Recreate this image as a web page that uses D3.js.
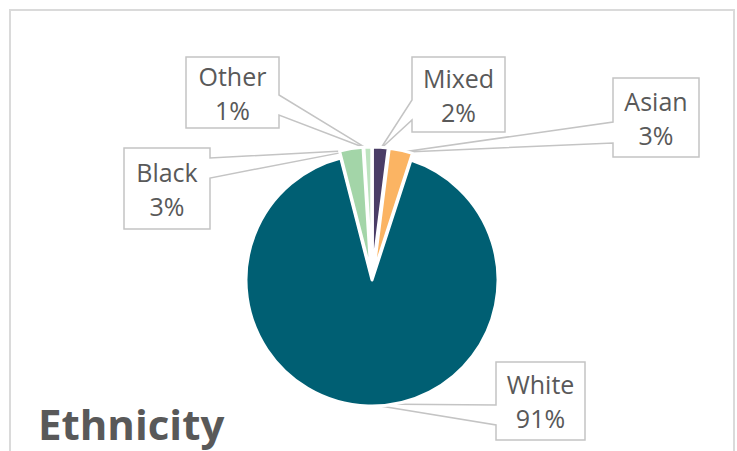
<!DOCTYPE html>
<meta charset="utf-8">
<style>
    html, body {
        margin: 0;
        padding: 0;
        background: #fff;
    }
    svg {
        display: block;
        font-family: "Open Sans", sans-serif;
    }
    .callout {
        fill: #fff;
        stroke: #c4c4c4;
        stroke-width: 1.5;
    }
    .label {
        fill: #595959;
        font-size: 25px;
    }
</style>
<body>
<script src="https://d3js.org/d3.v7.js"></script>
<script>
    // data, clockwise from 12 o'clock
    const categories = ["Mixed", "Asian", "White", "Black", "Other"];
    const values = [2, 3, 91, 3, 1];
    const percentLabels = ["2%", "3%", "91%", "3%", "1%"];
    const colors = ["#4a3d66", "#fbb463", "#005f73", "#a3d5a8", "#bde3bf"];

    // callout boxes: x, y, w, h, side of the pointer, pointer base (two y's)
    const boxes = {
        Mixed: {x: 412, y: 57, w: 93, h: 75, side: "left", b0: 100, b1: 120},
        Asian: {x: 613, y: 78, w: 86, h: 79, side: "left", b0: 122, b1: 143},
        White: {x: 496, y: 362, w: 89, h: 78, side: "left", b0: 405, b1: 425},
        Black: {x: 124, y: 148, w: 86, h: 81, side: "right", b0: 158, b1: 178},
        Other: {x: 186, y: 57, w: 93, h: 71, side: "right", b0: 95, b1: 115}
    };

    const width = 737, height = 451;
    const cx = 372, cy = 280, radius = 126, explode = 7;

    const svg = d3.select("body").append("svg")
        .attr("width", width)
        .attr("height", height);

    // outer frame
    svg.append("rect")
        .attr("x", 10).attr("y", 10)
        .attr("width", 724).attr("height", 460)
        .attr("fill", "none")
        .attr("stroke", "#dadada")
        .attr("stroke-width", 2);

    const data = categories.map((c, i) => ({name: c, value: values[i], pct: percentLabels[i], color: colors[i]}));

    const pie = d3.pie().sort(null).value(d => d.value);
    const arcs = pie(data);
    const arc = d3.arc().innerRadius(0).outerRadius(radius);

    // small slices are pulled out a little
    const offset = d => d.data.value < 50 ? explode : 0;
    const mid = d => (d.startAngle + d.endAngle) / 2;

    // callouts first so the pointers tuck under the slices
    const callouts = svg.append("g");
    arcs.forEach(d => {
        const b = boxes[d.data.name];
        const a = mid(d), rr = radius + offset(d) - 2;
        const tip = [cx + rr * Math.sin(a), cy - rr * Math.cos(a)];
        let pts;
        if (b.side === "right") {
            pts = [[b.x, b.y], [b.x + b.w, b.y], [b.x + b.w, b.b0], tip,
                [b.x + b.w, b.b1], [b.x + b.w, b.y + b.h], [b.x, b.y + b.h]];
        } else {
            pts = [[b.x, b.y], [b.x + b.w, b.y], [b.x + b.w, b.y + b.h], [b.x, b.y + b.h],
                [b.x, b.b1], tip, [b.x, b.b0]];
        }
        callouts.append("path")
            .attr("class", "callout")
            .attr("d", d3.line()(pts) + "Z");

        const tx = b.x + b.w / 2, ty = b.y + b.h / 2;
        callouts.append("text")
            .attr("class", "label")
            .attr("x", tx).attr("y", ty - 17)
            .attr("text-anchor", "middle")
            .attr("dominant-baseline", "central")
            .text(d.data.name);
        callouts.append("text")
            .attr("class", "label")
            .attr("x", tx).attr("y", ty + 17)
            .attr("text-anchor", "middle")
            .attr("dominant-baseline", "central")
            .text(d.data.pct);
    });

    svg.append("g")
        .attr("transform", `translate(${cx},${cy})`)
        .selectAll("path")
        .data(arcs)
        .join("path")
        .attr("transform", d => {
            const o = offset(d), a = mid(d);
            return `translate(${o * Math.sin(a)},${-o * Math.cos(a)})`;
        })
        .attr("d", arc)
        .attr("fill", d => d.data.color)
        .attr("stroke", "#fff")
        .attr("stroke-width", 3)
        .attr("stroke-linejoin", "round");

    svg.append("text")
        .attr("x", 38)
        .attr("y", 440)
        .attr("fill", "#595959")
        .attr("font-size", 42)
        .attr("font-weight", 700)
        .text("Ethnicity");
</script>
</body>
